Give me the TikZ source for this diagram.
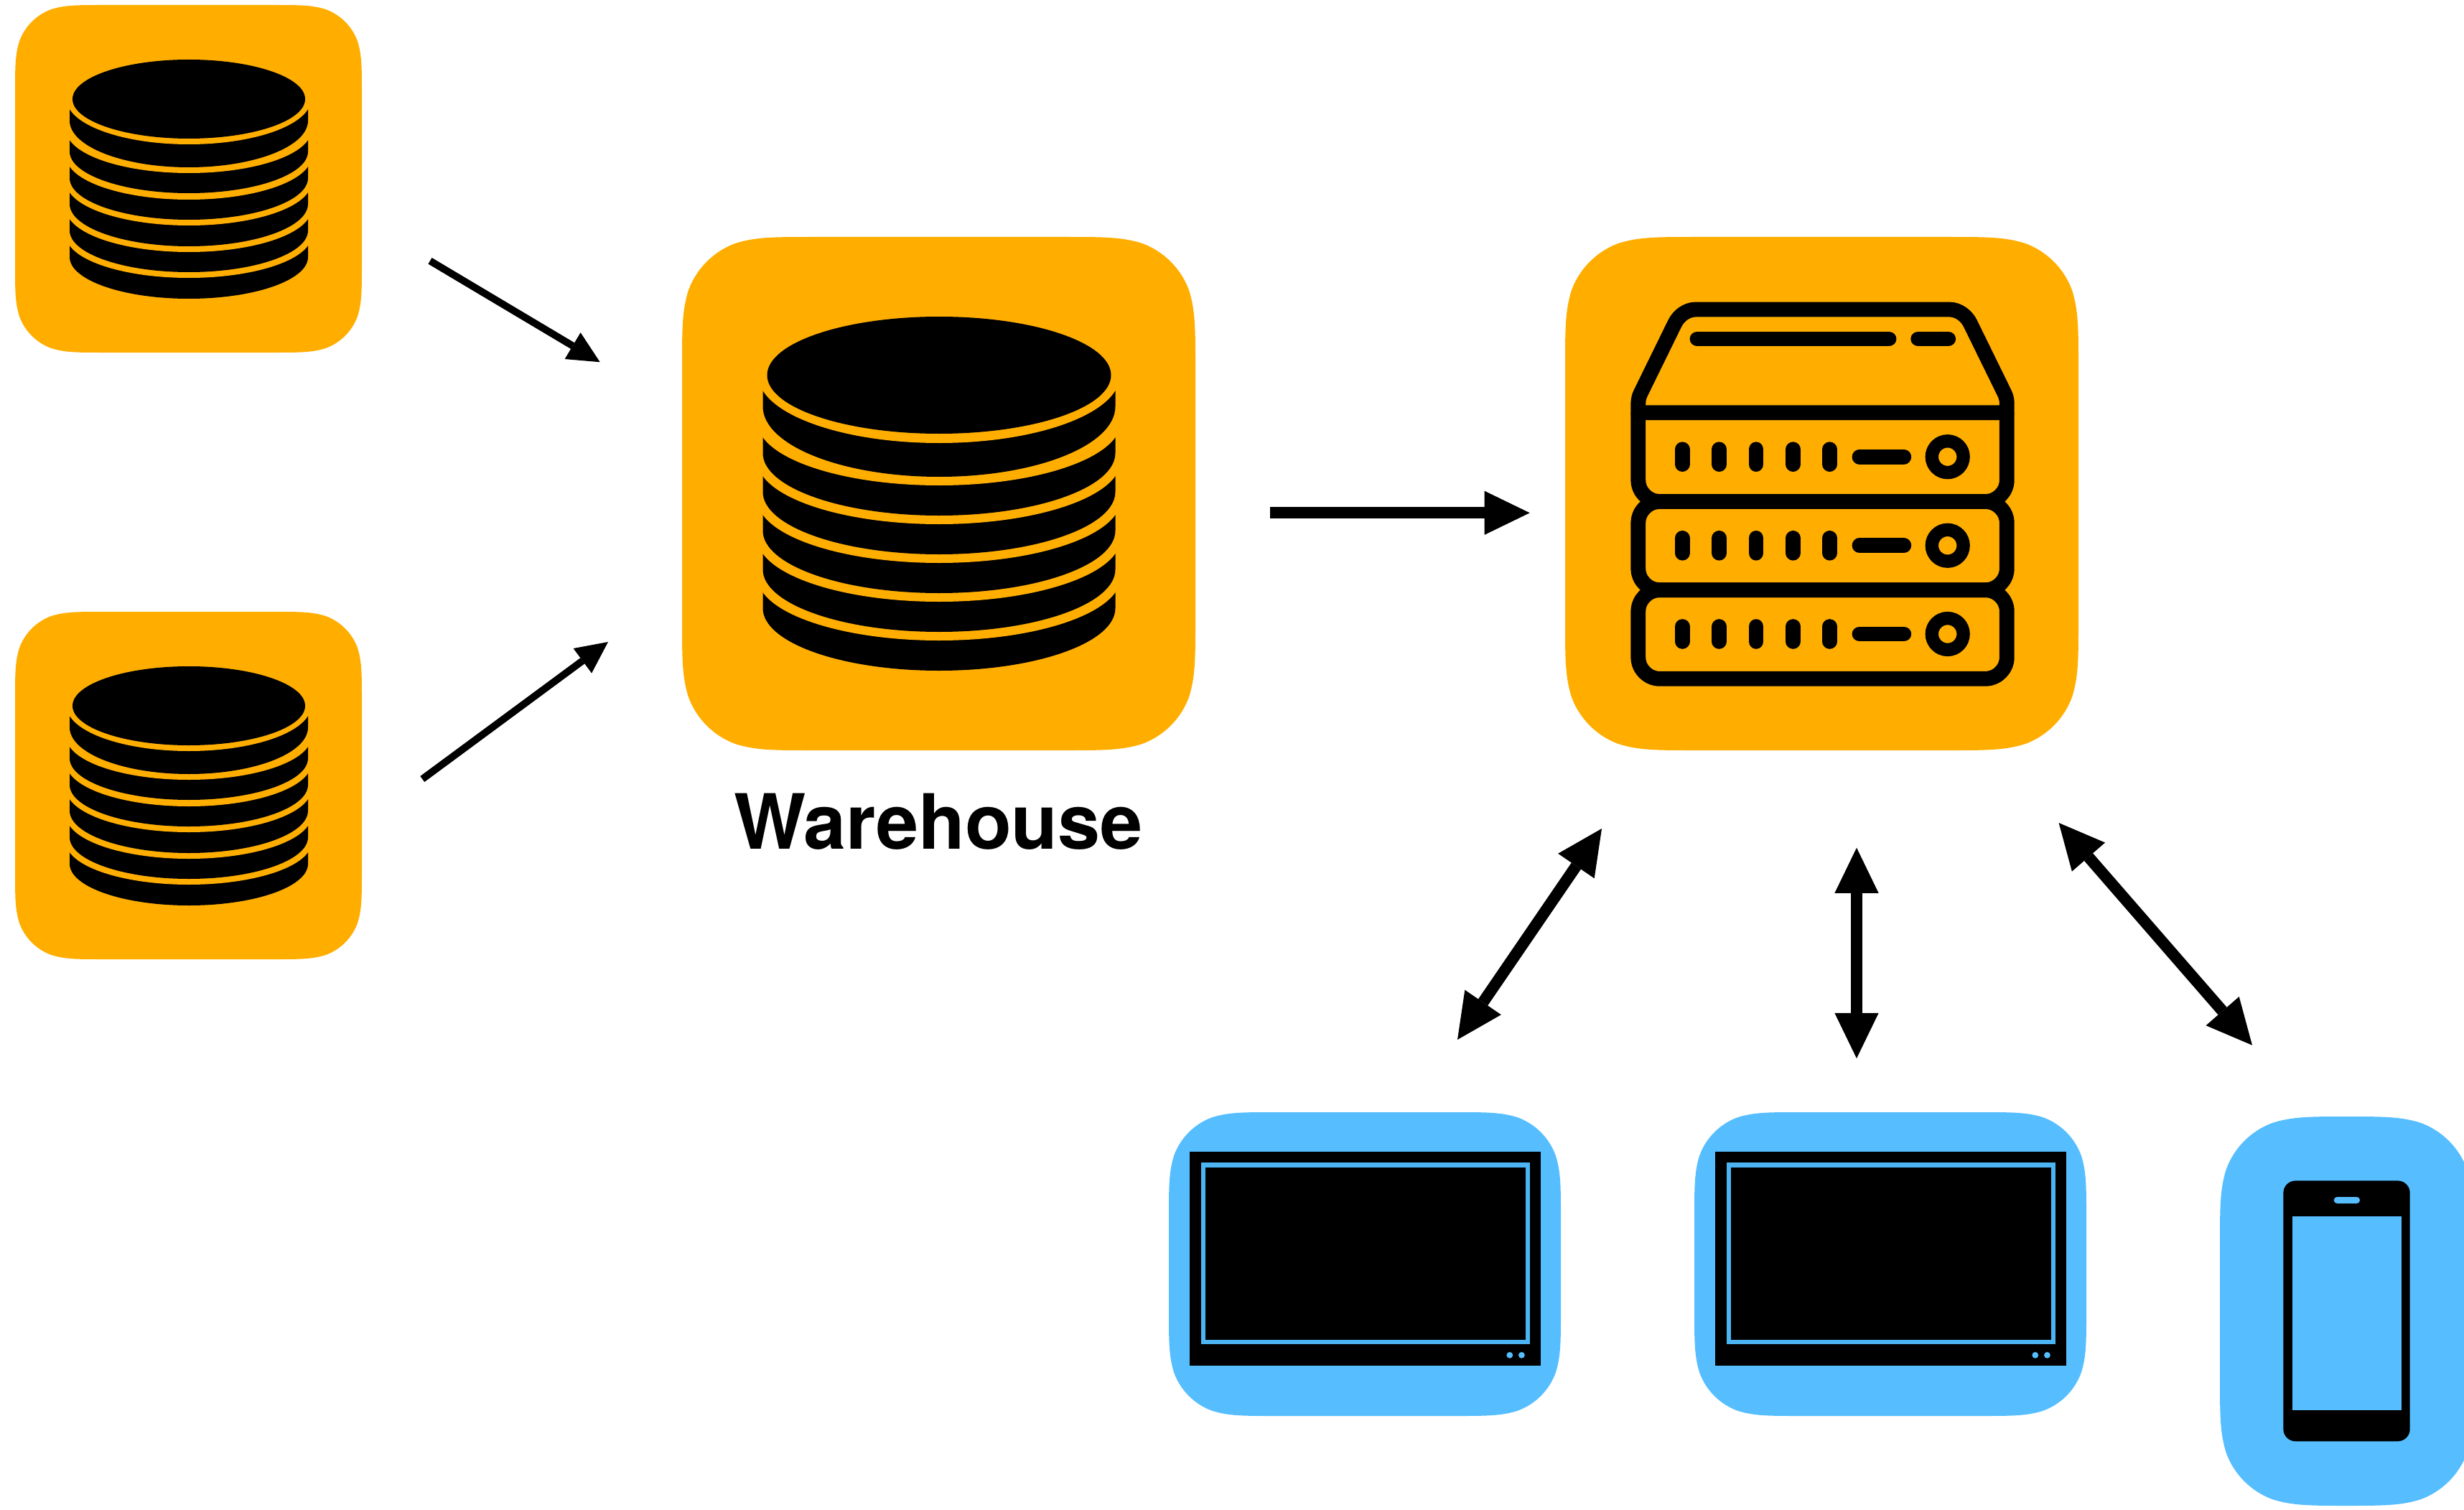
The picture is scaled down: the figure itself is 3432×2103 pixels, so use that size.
\documentclass[tikz,border=0pt]{standalone}
\usepackage{fontspec}
\setmainfont{TeX Gyre Heros}
\usetikzlibrary{arrows.meta}
\definecolor{tileorange}{RGB}{255,174,0}
\definecolor{tileblue}{RGB}{86,190,255}
\definecolor{framebl}{RGB}{76,180,242}
\newdimen\pxu \pxu=0.28453pt
\def\tileK{0.165}
% squircle tile: x1 y1 x2 y2 colour
\newcommand\tile[5]{%
  \pgfmathsetmacro\tR{\tileK*max(#3-#1,#4-#2)}%
  \pgfmathsetmacro\tA{1.52866*\tR}\pgfmathsetmacro\tB{1.08849*\tR}%
  \pgfmathsetmacro\tC{0.86840*\tR}\pgfmathsetmacro\tD{0.63149*\tR}%
  \pgfmathsetmacro\tF{0.07491*\tR}\pgfmathsetmacro\tG{0.37282*\tR}%
  \pgfmathsetmacro\tH{0.16906*\tR}%
  \fill[#5] (#1+\tA,#2) -- (#3-\tA,#2)
    .. controls (#3-\tB,#2) and (#3-\tC,#2) .. (#3-\tD,#2+\tF)
    .. controls (#3-\tG,#2+\tH) and (#3-\tH,#2+\tG) .. (#3-\tF,#2+\tD)
    .. controls (#3,#2+\tC) and (#3,#2+\tB) .. (#3,#2+\tA)
    -- (#3,#4-\tA)
    .. controls (#3,#4-\tB) and (#3,#4-\tC) .. (#3-\tF,#4-\tD)
    .. controls (#3-\tH,#4-\tG) and (#3-\tG,#4-\tH) .. (#3-\tD,#4-\tF)
    .. controls (#3-\tC,#4) and (#3-\tB,#4) .. (#3-\tA,#4)
    -- (#1+\tA,#4)
    .. controls (#1+\tB,#4) and (#1+\tC,#4) .. (#1+\tD,#4-\tF)
    .. controls (#1+\tG,#4-\tH) and (#1+\tH,#4-\tG) .. (#1+\tF,#4-\tD)
    .. controls (#1,#4-\tC) and (#1,#4-\tB) .. (#1,#4-\tA)
    -- (#1,#2+\tA)
    .. controls (#1,#2+\tB) and (#1,#2+\tC) .. (#1+\tF,#2+\tD)
    .. controls (#1+\tH,#2+\tG) and (#1+\tG,#2+\tH) .. (#1+\tD,#2+\tF)
    .. controls (#1+\tC,#2) and (#1+\tB,#2) .. (#1+\tA,#2) -- cycle;}
% ellipse: cx cy rx ry colour
\newcommand\elli[5]{%
  \pgfmathsetmacro\eKx{0.5523*#3}\pgfmathsetmacro\eKy{0.5523*#4}%
  \fill[#5] (#1-#3,#2) .. controls (#1-#3,#2-\eKy) and (#1-\eKx,#2-#4) .. (#1,#2-#4)
    .. controls (#1+\eKx,#2-#4) and (#1+#3,#2-\eKy) .. (#1+#3,#2)
    .. controls (#1+#3,#2+\eKy) and (#1+\eKx,#2+#4) .. (#1,#2+#4)
    .. controls (#1-\eKx,#2+#4) and (#1-#3,#2+\eKy) .. (#1-#3,#2) -- cycle;}
% disc: cx halfwidth tip side yellowedge bottom rise
\newcommand\disc[7]{%
  \pgfmathsetmacro\dRy{#6-(#3+#4)}%
  \pgfmathsetmacro\dKy{0.5523*\dRy}\pgfmathsetmacro\dKx{0.5523*#2}%
  \fill[black] (#1-#2,#3) -- (#1-#2,#3+#4)
    .. controls (#1-#2,#3+#4+\dKy) and (#1-\dKx,#6) .. (#1,#6)
    .. controls (#1+\dKx,#6) and (#1+#2,#3+#4+\dKy) .. (#1+#2,#3+#4)
    -- (#1+#2,#3) -- cycle;
  \pgfmathsetmacro\dCy{#3-#7}\pgfmathsetmacro\dEy{#5-\dCy}%
  \pgfmathsetmacro\dEx{#2/sqrt(1-(#7/\dEy)*(#7/\dEy))}%
  \elli{#1}{\dCy}{\dEx}{\dEy}{tileorange}}
\newcommand\smallcyl{%
  \tile{21}{7}{504}{491}{tileorange}
  \foreach \t/\e/\b in {342/387/416,305/351/379,268/314/343,232/278/306,195/241/269,152/201/233}
    {\disc{263}{166}{\t}{16}{\e}{\b}{14}}
  \elli{263}{138}{162}{55}{black}}
\newcommand\monitor{%
  \tile{1628}{1549}{2174}{1972}{tileblue}
  \fill[black] (1657,1604) rectangle (2146,1902);
  \fill[framebl] (1672.5,1619) rectangle (2131,1872);
  \fill[black] (1678.5,1625.7) rectangle (2125,1865.7);
  \fill[tileblue] (2102.8,1887.3) circle[radius=4.4\pxu] (2119.4,1887.3) circle[radius=4.4\pxu];}
\tikzset{
  srv/.style={draw=black,line width=20.8\pxu,line join=round},
  srvdash/.style={draw=black,line width=20.8\pxu,line cap=round},
  arrsmall/.style={line width=2.845pt,-{Triangle[length=12.6pt,width=12.2pt,line width=0pt]}},
  arrbig/.style={line width=4.55pt,-{Triangle[length=17.93pt,width=17.4pt,line width=0pt]}},
  arrboth/.style={line width=4.55pt,{Triangle[length=17.93pt,width=17.4pt,line width=0pt]}-{Triangle[length=17.93pt,width=17.4pt,line width=0pt]}},
}
\begin{document}
\begin{tikzpicture}[x=0.01cm,y=-0.01cm]
\path[use as bounding box,clip] (0,0) rectangle (3432,2103);
% source databases
\smallcyl
\begin{scope}[shift={(0,845)}]\smallcyl\end{scope}
% warehouse
\tile{950}{330}{1665}{1045}{tileorange}
\foreach \t/\e/\b in {825/892/934,771/838/880,717/784/826,663/730/772,609/676/718,544/617/664}
  {\disc{1308}{245.5}{\t}{22}{\e}{\b}{21.5}}
\elli{1308}{522.5}{239.5}{81.5}{black}
\node[anchor=base,inner sep=0pt,font=\fontsize{30.2pt}{34pt}\selectfont\bfseries] (wh) at (1307,1182) {Warehouse};
% server
\tile{2180}{330}{2895}{1045}{tileorange}
\draw[srv] (2281.8,574.8) -- (2281.8,563) .. controls (2281.8,553) and (2284,550) .. (2288,541.8)
  -- (2333,450) .. controls (2338,440) and (2349,431) .. (2362,431) -- (2715.1,431)
  .. controls (2728.1,431) and (2739.1,440) .. (2744.1,450) -- (2789.1,541.8)
  .. controls (2793.1,550) and (2795.3,553) .. (2795.3,563) -- (2795.3,574.8) -- cycle;
\draw[srv,rounded corners=8.54pt] (2281.8,574.8) -- (2281.8,698.5) -- (2795.3,698.5) -- (2795.3,574.8);
\draw[srv,rounded corners=8.54pt] (2281.8,698.5) rectangle (2795.3,821.7);
\draw[srv,rounded corners=8.54pt] (2281.8,821.7) rectangle (2795.3,945.3);
\draw[srvdash] (2364,472) -- (2631,472) (2671.7,472) -- (2713.7,472);
\foreach \r in {636.2,759.8,883}{
  \foreach \c in {2343.2,2394.6,2446,2497.5,2548.5}
    \draw[srvdash] (\c,\r-10.4) -- (\c,\r+10.4);
  \draw[srvdash] (2590,\r) -- (2651.8,\r);
  \draw[draw=black,line width=18.3\pxu] (2712.7,\r) circle[radius=21.9\pxu];
}
% monitors
\def\tileK{0.175}
\monitor
\begin{scope}[shift={(732,0)}]\monitor\end{scope}
% phone
\def\tileK{0.215}
\tile{3092}{1555}{3445}{2097}{tileblue}
\fill[black,rounded corners=4.84pt] (3180.3,1644.4) rectangle (3356.7,2007.3);
\fill[tileblue] (3192.7,1694) rectangle (3345,1963.8);
\fill[tileblue,rounded corners=1.28pt] (3250.7,1667) rectangle (3287,1676);
% connectors
\coordinate (s1) at (599,363.3);
\coordinate (w1) at (835.7,504.3);
\coordinate (s2) at (588.3,1085);
\coordinate (w2) at (847,894);
\coordinate (w3) at (1769,714.3);
\coordinate (v1) at (2130.7,714.3);
\coordinate (c1a) at (2231,1154);
\coordinate (c1b) at (2030,1448);
\coordinate (c2a) at (2586,1180.7);
\coordinate (c2b) at (2586,1474);
\coordinate (c3a) at (2867.6,1146);
\coordinate (c3b) at (3137,1455.7);
\draw[arrsmall] (s1) -- (w1);
\draw[arrsmall] (s2) -- (w2);
\draw[arrbig] (w3) -- (v1);
\draw[arrboth] (c1a) -- (c1b);
\draw[arrboth] (c2a) -- (c2b);
\draw[arrboth] (c3a) -- (c3b);
\end{tikzpicture}
\end{document}
